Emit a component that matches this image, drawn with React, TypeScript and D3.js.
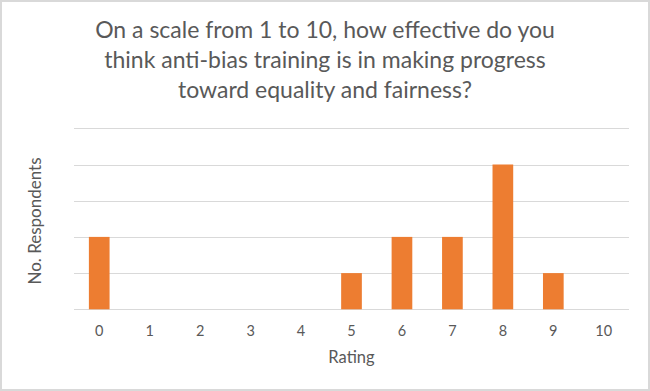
import React, { useEffect, useRef } from 'react';
import * as d3 from 'd3';

const ratings = ['0', '1', '2', '3', '4', '5', '6', '7', '8', '9', '10'];
const respondents = [2, 0, 0, 0, 0, 1, 2, 2, 4, 1, 0];
const yTicks = [0, 1, 2, 3, 4, 5];
const titleLines = [
  'On a scale from 1 to 10, how effective do you',
  'think anti-bias training is in making progress',
  'toward equality and fairness?',
];

const App = () => {
  const chartRef = useRef<HTMLDivElement>(null);

  useEffect(() => {
    document.body.style.margin = '0';
    const width = 650;
    const height = 391;
    const margin = { top: 128.3, right: 21, bottom: 81.7, left: 74 };
    const font = 'Lato, "Open Sans", sans-serif';
    const textColor = '#595959';

    d3.select(chartRef.current).select('svg').remove();

    const svg = d3
      .select(chartRef.current)
      .append('svg')
      .attr('width', width)
      .attr('height', height)
      .style('display', 'block');

    svg
      .append('rect')
      .attr('x', 1)
      .attr('y', 1)
      .attr('width', width - 2)
      .attr('height', height - 2)
      .attr('fill', '#fff')
      .attr('stroke', '#d9d9d9')
      .attr('stroke-width', 2);

    const x = d3
      .scaleBand()
      .domain(ratings)
      .range([margin.left, width - margin.right])
      .paddingInner(0.59)
      .paddingOuter(0.295);

    const y = d3
      .scaleLinear()
      .domain([0, 5])
      .range([height - margin.bottom, margin.top]);

    // gridlines
    svg
      .append('g')
      .selectAll('line')
      .data(yTicks)
      .join('line')
      .attr('x1', margin.left)
      .attr('x2', width - margin.right)
      .attr('y1', (d) => Math.round(y(d)) + 0.5)
      .attr('y2', (d) => Math.round(y(d)) + 0.5)
      .attr('stroke', '#d9d9d9')
      .attr('stroke-width', 1);

    svg
      .append('g')
      .selectAll('rect')
      .data(respondents)
      .join('rect')
      .attr('x', (d, i) => x(ratings[i]) as number)
      .attr('y', (d) => y(d))
      .attr('width', x.bandwidth())
      .attr('height', (d) => y(0) - y(d))
      .attr('fill', '#ED7D31');

    // category labels
    svg
      .append('g')
      .selectAll('text')
      .data(ratings)
      .join('text')
      .attr('x', (d) => (x(d) as number) + x.bandwidth() / 2)
      .attr('y', 336)
      .attr('text-anchor', 'middle')
      .attr('font-family', font)
      .attr('font-size', 14.5)
      .attr('fill', textColor)
      .text((d) => d);

    svg
      .append('text')
      .attr('x', (margin.left + width - margin.right) / 2)
      .attr('y', 363)
      .attr('text-anchor', 'middle')
      .attr('font-family', font)
      .attr('font-size', 16.5)
      .attr('fill', textColor)
      .text('Rating');

    svg
      .append('text')
      .attr('transform', 'rotate(-90)')
      .attr('x', -221)
      .attr('y', 41)
      .attr('text-anchor', 'middle')
      .attr('font-family', font)
      .attr('font-size', 17)
      .attr('fill', textColor)
      .text('No. Respondents');

    svg
      .append('g')
      .selectAll('text')
      .data(titleLines)
      .join('text')
      .attr('x', width / 2)
      .attr('y', (d, i) => 38.3 + i * 30)
      .attr('text-anchor', 'middle')
      .attr('font-family', font)
      .attr('font-size', 23)
      .attr('fill', textColor)
      .text((d) => d);
  }, []);

  return (
    <div>
      <div ref={chartRef}></div>
    </div>
  );
};

export default App;
